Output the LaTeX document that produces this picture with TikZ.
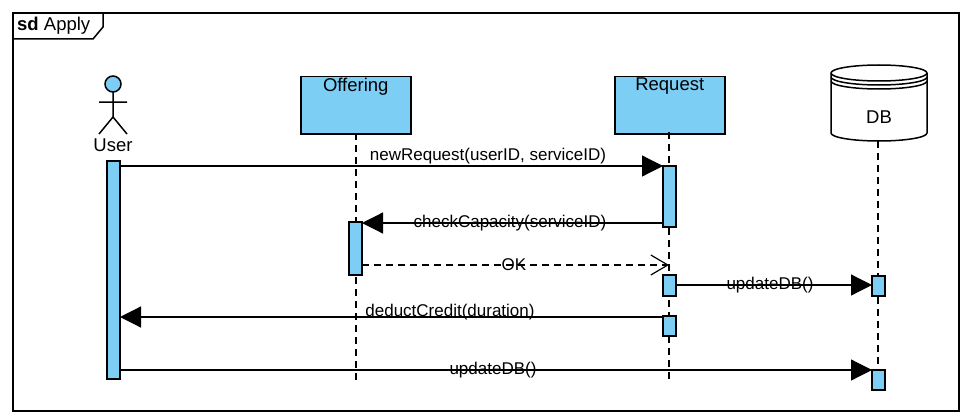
\documentclass[tikz,border=0pt]{standalone}
\usepackage{fontspec}
\setmainfont{Liberation Sans}
\usetikzlibrary{arrows.meta,shapes.geometric}
\definecolor{lblue}{RGB}{124,206,245}
\tikzset{
  obj/.style={draw,line width=1.5pt,fill=lblue,minimum width=110pt,minimum height=57pt,anchor=north west,inner sep=0pt},
  act/.style={draw,line width=1.5pt,fill=lblue},
  life/.style={line width=1.2pt,dash pattern=on 7pt off 5pt},
  msg/.style={line width=1.2pt,-{Triangle[length=21pt,width=21pt]}},
  ret/.style={line width=1.2pt,dash pattern=on 7pt off 5pt,-{Straight Barb[length=17pt,width=20pt,line width=1.2pt]}},
  lbl/.style={font=\fontsize{17}{19}\selectfont,inner sep=1pt},
  ttl/.style={font=\fontsize{18.5}{21}\selectfont}
}
\begin{document}
\begin{tikzpicture}[x=1pt,y=-1pt]
\useasboundingbox (0,0) rectangle (972,420);

%frame
\draw [line width=2pt] (13,13) rectangle (959,411);
\draw [line width=1.5pt] (13,39) -- (93,39) -- (103,27) -- (103,13);
\node [anchor=west,ttl,inner sep=0pt] (tag) at (17,26) {\textbf{sd} Apply};

%actor
\draw [line width=1.5pt,fill=lblue] (113,84) circle (8);
\draw [line width=1.5pt] (113,92) -- (113,117) (99,102) -- (127,102) (99,134) -- (113,117) -- (127,134);
\node [ttl,inner sep=0pt] (user) at (113,145) {User};

%objects
\node [obj] (offering) at (300,76) {};
\node [anchor=north,ttl,inner sep=2pt] at (offering.north) {Offering};
\node [obj] (request) at (614,76) {};
\node [anchor=north,ttl,inner sep=2pt] at (request.north) {Request};

%database
\draw [line width=1.5pt,fill=white] (831,73) -- (831,133) arc [start angle=180,end angle=0,x radius=48,y radius=8] -- (927,73) arc [start angle=0,end angle=-180,x radius=48,y radius=8] -- cycle;
\draw [line width=1.5pt] (831,73) arc [start angle=180,end angle=0,x radius=48,y radius=8];
\draw [line width=1.5pt] (831,77) arc [start angle=180,end angle=0,x radius=48,y radius=8];
\draw [line width=1.5pt] (831,81) arc [start angle=180,end angle=0,x radius=48,y radius=8];
\node [ttl,inner sep=0pt] (db) at (879,117) {DB};

%lifelines
\draw [life] (356,133) -- (356,380);
\draw [life] (669,132) -- (669,380);
\draw [life] (878,141) -- (878,370);

%activations
\draw [act] (107,161) rectangle (120,379);
\draw [act] (663,166) rectangle (676,227);
\draw [act] (349,222) rectangle (362,275);
\draw [act] (663,275) rectangle (676,296);
\draw [act] (872,276) rectangle (885,296);
\draw [act] (663,316) rectangle (676,336);
\draw [act] (872,370) rectangle (885,390);

%message ends
\coordinate (m1a) at (120,166); \coordinate (m1b) at (663,166);
\coordinate (m2a) at (663,223); \coordinate (m2b) at (362,223);
\coordinate (m3a) at (362,265); \coordinate (m3b) at (669,265);
\coordinate (m4a) at (676,285); \coordinate (m4b) at (872,285);
\coordinate (m5a) at (663,317); \coordinate (m5b) at (120,317);
\coordinate (m6a) at (120,370); \coordinate (m6b) at (872,370);

%messages
\draw [msg] (m1a) -- (m1b);
\node [lbl] (l1) at (488,156) {newRequest(userID, serviceID)};
\draw [msg] (m2a) -- (m2b);
\node [lbl] (l2) at (510,223) {checkCapacity(serviceID)};
\draw [ret] (m3a) -- (m3b);
\node [lbl] (l3) at (514,265) {OK};
\draw [msg] (m4a) -- (m4b);
\node [lbl] (l4) at (770,285) {updateDB()};
\draw [msg] (m5a) -- (m5b);
\node [lbl] (l5) at (450,312) {deductCredit(duration)};
\draw [msg] (m6a) -- (m6b);
\node [lbl] (l6) at (493,370) {updateDB()};
\end{tikzpicture}
\end{document}
